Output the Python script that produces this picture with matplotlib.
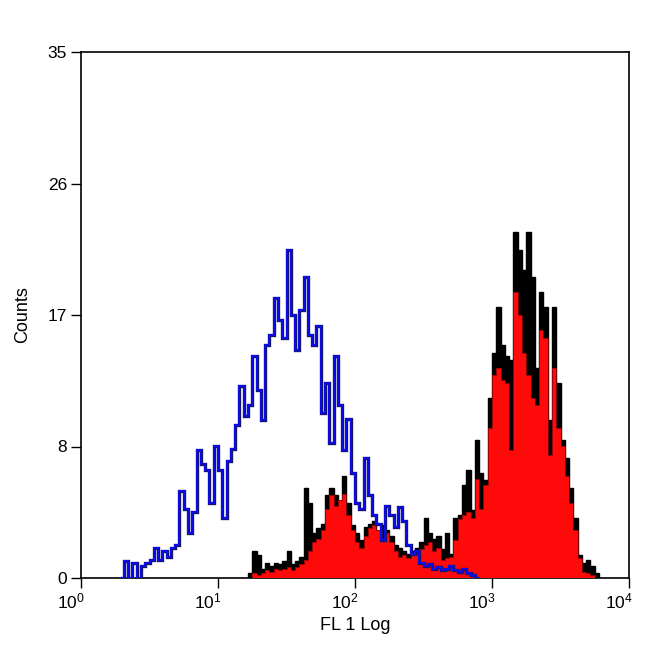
import numpy as np
import matplotlib
matplotlib.use("Agg")
import matplotlib.pyplot as plt
from matplotlib.transforms import ScaledTranslation

plt.rcParams['font.family'] = ['Liberation Sans', 'DejaVu Sans']
plt.rcParams['mathtext.fontset'] = 'custom'
plt.rcParams['mathtext.rm'] = 'Liberation Sans'

# 128 log channels spanning 10^0 .. 10^4
n_channels = 128
decades = 4

# Isotype control (blue outline), starting at channel 9
blue_start = 9
blue_counts = [0, 1.1, 0, 1.0, 0, 0.8, 1.0, 1.2, 2.0, 1.2, 1.8, 1.4, 2.0, 2.2,
               5.8, 4.6, 3.0, 4.4, 8.5, 7.6, 7.2, 5.0, 8.8, 7.2, 4.0, 7.8, 8.6,
               10.2, 12.8, 10.8, 11.5, 14.8, 12.5, 10.5, 15.5, 16.2, 18.6, 17.2,
               16.0, 21.8, 17.5, 15.2, 17.8, 20.0, 16.2, 15.5, 16.8, 11.0, 13.0,
               9.0, 14.8, 11.5, 8.5, 10.6, 7.0, 5.0, 4.6, 8.0, 5.5, 4.2, 3.6,
               2.5, 4.8, 4.2, 3.4, 4.7, 3.8, 2.2, 1.6, 1.8, 1.0, 0.8, 0.9, 0.6,
               0.7, 0.5, 0.6, 0.8, 0.5, 0.4, 0.6, 0.3, 0.2, 0]

# Stained sample 1 (black filled), starting at channel 39
black_start = 39
black_counts = [0.3, 1.8, 1.5, 0.6, 1.0, 0.8, 1.0, 0.9, 1.1, 1.8, 0.9, 1.1, 1.4,
                6.0, 5.0, 3.0, 3.3, 3.6, 5.5, 6.0, 5.5, 5.0, 6.8, 5.0, 3.5, 3.0,
                2.5, 3.4, 3.6, 3.8, 3.0, 3.5, 3.2, 2.8, 2.2, 2.0, 1.8, 1.6, 1.8,
                2.0, 2.4, 4.0, 3.0, 2.6, 2.8, 1.9, 3.0, 1.6, 4.0, 4.2, 6.2, 7.2,
                4.5, 9.2, 7.0, 6.5, 12.0, 15.0, 18.0, 15.5, 14.8, 14.5, 23.0,
                21.8, 20.5, 23.0, 20.0, 14.0, 19.0, 18.0, 10.5, 18.0, 13.0, 9.2,
                8.0, 6.0, 4.0, 1.5, 1.0, 1.2, 0.8, 0.3, 0]

# Stained sample 2 (red filled), starting at channel 39
red_start = 39
red_counts = [0, 0.3, 0.2, 0.3, 0.5, 0.4, 0.6, 0.5, 0.6, 0.7, 0.5, 0.7, 0.9,
              1.2, 1.8, 2.4, 2.6, 3.2, 4.6, 5.5, 4.8, 5.2, 5.6, 4.2, 3.2, 2.4,
              2.0, 2.8, 3.3, 3.5, 3.2, 2.6, 3.0, 2.4, 1.8, 1.4, 1.5, 1.3, 1.5,
              1.6, 1.9, 2.2, 2.4, 1.8, 2.0, 1.2, 1.3, 1.4, 2.5, 3.9, 4.2, 4.4,
              4.0, 6.6, 4.6, 6.2, 10.0, 13.5, 14.0, 13.2, 13.0, 8.5, 19.0, 17.5,
              15.0, 13.5, 12.0, 11.5, 16.5, 16.0, 8.2, 14.0, 10.0, 8.8, 6.8,
              5.0, 3.2, 1.3, 0.4, 0.3, 0.2, 0, 0]

y_ticks = [0, 8.75, 17.5, 26.25, 35]
y_tick_labels = ["0", "8", "17", "26", "35"]
x_ticks = [1, 10, 100, 1000, 10000]
x_tick_labels = [r"$\mathdefault{10^{0}}$", r"$\mathdefault{10^{1}}$",
                 r"$\mathdefault{10^{2}}$", r"$\mathdefault{10^{3}}$",
                 r"$\mathdefault{10^{4}}$"]


def edges_for(start, counts):
    ch = np.arange(start, start + len(counts) + 1)
    return 10.0 ** (ch * decades / n_channels)


fig = plt.figure(figsize=(6.5, 6.5), dpi=100)
ax = fig.add_axes([81 / 650, 72 / 650, 548 / 650, 526 / 650])

ax.stairs(black_counts, edges_for(black_start, black_counts), fill=True,
          color="black", zorder=2)
ax.stairs(black_counts, edges_for(black_start, black_counts), fill=False,
          color="black", linewidth=1.0, zorder=2)
ax.stairs(red_counts, edges_for(red_start, red_counts), fill=True,
          color="#ff0a0a", zorder=3)
ax.stairs(red_counts, edges_for(red_start, red_counts), fill=False,
          color="#8a0000", linewidth=0.6, zorder=3)
ax.stairs(blue_counts, edges_for(blue_start, blue_counts), fill=False,
          color="#14146e", linewidth=2.4, zorder=4)
ax.stairs(blue_counts, edges_for(blue_start, blue_counts), fill=False,
          color="#0a0aff", linewidth=1.2, zorder=5)

ax.set_xscale("log")
ax.set_xlim(1, 10000)
ax.set_ylim(0, 35)
ax.set_xticks(x_ticks)
ax.set_xticklabels(x_tick_labels)
ax.xaxis.set_minor_locator(matplotlib.ticker.NullLocator())
ax.set_yticks(y_ticks)
ax.set_yticklabels(y_tick_labels)

ax.tick_params(axis="both", direction="out", length=7, width=1.0,
               labelsize=12.5, colors="black", pad=3)
for sp in ax.spines.values():
    sp.set_linewidth(1.2)
    sp.set_color("black")

shift = ScaledTranslation(-10 / 100, 0, fig.dpi_scale_trans)
for lab in ax.get_xticklabels():
    lab.set_transform(lab.get_transform() + shift)

ax.set_xlabel("FL 1 Log", fontsize=13, labelpad=4)
ax.set_ylabel("Counts", fontsize=13, labelpad=12)

fig.savefig("out.png", dpi=100, facecolor="white")
